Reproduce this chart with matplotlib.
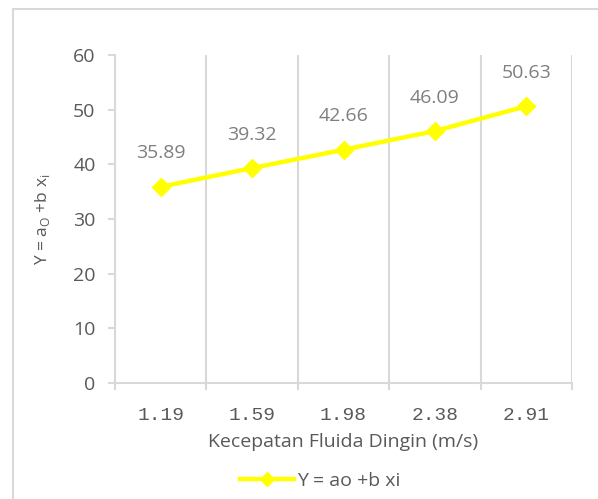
import matplotlib.pyplot as plt
from matplotlib.patches import Rectangle
from matplotlib.lines import Line2D
import numpy as np

# data
kecepatan = ['1.19', '1.59', '1.98', '2.38', '2.91']
y_values = [35.89, 39.32, 42.66, 46.09, 50.63]

grey = '#595959'
label_grey = '#7F7F7F'
grid_col = '#D9D9D9'
yellow = '#FFFF00'

fig = plt.figure(figsize=(5.98, 4.99), dpi=100)
plt.rcParams['font.family'] = ['Open Sans', 'DejaVu Sans']

# chart border (cut off on right/bottom)
fig.patches.append(Rectangle((13 / 598, -0.1), 1.2, 1 - 9 / 499 + 0.1, transform=fig.transFigure,
                             fill=False, edgecolor=grid_col, linewidth=1.5))

ax = fig.add_axes([115 / 598, 1 - 383 / 499, (572 - 115) / 598, (383 - 55) / 499])
x = np.arange(len(kecepatan))
ax.plot(x, y_values, color=yellow, linewidth=3.2, marker='D', markersize=9,
        markerfacecolor=yellow, markeredgecolor=yellow, zorder=3)

for xi, yi in zip(x, y_values):
    ax.annotate(f'{yi:.2f}', (xi, yi), xytext=(0, 24), textcoords='offset points',
                ha='center', va='center', fontsize=14, color=label_grey)

ax.set_xlim(-0.5, len(kecepatan) - 0.5)
ax.set_ylim(0, 60)
ax.set_yticks(range(0, 61, 10))
ax.set_xticks(x)
ax.set_xticklabels(kecepatan, fontfamily='Liberation Mono', fontsize=14, color=grey)
ax.set_xticks(np.arange(-0.5, len(kecepatan)), minor=True)
ax.tick_params(axis='x', which='major', length=0, pad=17)
ax.tick_params(axis='x', which='minor', length=5, width=1.5, color=grid_col)
ax.tick_params(axis='y', length=5, width=1.5, color=grid_col, labelsize=14, labelcolor=grey, pad=9)
ax.grid(axis='x', which='minor', color=grid_col, linewidth=1.5)

for s in ['top', 'right']:
    ax.spines[s].set_visible(False)
for s in ['left', 'bottom']:
    ax.spines[s].set_color(grid_col)
    ax.spines[s].set_linewidth(1.5)

ax.set_xlabel('Kecepatan Fluida Dingin (m/s)', fontsize=14, color=grey, labelpad=7)
ax.set_ylabel(r'Y = a$_\mathregular{O}$ +b x$_\mathregular{i}$', fontsize=12.5, color=grey, labelpad=15)

handle = Line2D([], [], color=yellow, linewidth=3.2, marker='D', markersize=7,
                markerfacecolor=yellow, markeredgecolor=yellow)
fig.legend([handle], ['Y = ao +b xi'], loc='center', bbox_to_anchor=(320 / 598, 1 - 481 / 499),
           frameon=False, fontsize=14, labelcolor=grey, handlelength=2.8, handletextpad=0.15)

fig.savefig('out.png', dpi=100)
